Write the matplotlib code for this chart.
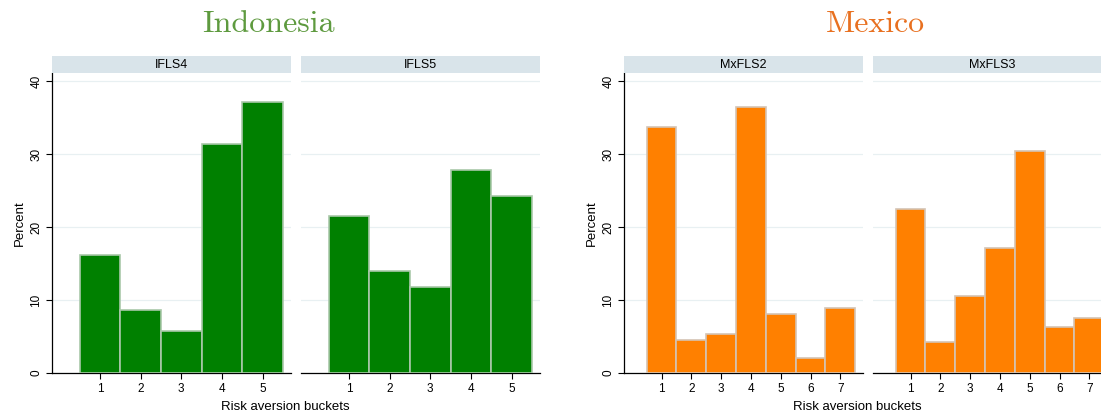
import matplotlib
matplotlib.use("Agg")
import matplotlib.pyplot as plt

# data (percent of respondents per bucket)
ifls_buckets = [1, 2, 3, 4, 5]
ifls4 = [16.2, 8.6, 5.8, 31.4, 37.1]
ifls5 = [21.5, 14.0, 11.8, 27.8, 24.2]

mxfls_buckets = [1, 2, 3, 4, 5, 6, 7]
mxfls2 = [33.7, 4.5, 5.3, 36.5, 8.1, 2.0, 8.9]
mxfls3 = [22.5, 4.3, 10.6, 17.1, 30.4, 6.3, 7.5]

y_ticks = [0, 10, 20, 30, 40]

W, H = 1101, 415
GREEN = "#008000"
ORANGE = "#ff8000"
STRIP = "#d9e4ea"
GRID = "#e8f0f2"

plt.rcParams["font.family"] = ["Liberation Sans", "DejaVu Sans"]


def rect(x0, y0, x1, y1):
    # pixel box (top-left origin) -> figure fraction
    return [x0 / W, 1 - y1 / H, (x1 - x0) / W, (y1 - y0) / H]


def panel(fig, x0, x1, name, buckets, values, color, edge, xlim, first):
    ax = fig.add_axes(rect(x0, 73, x1, 373))
    ax.bar(buckets, values, width=1.0, color=color, edgecolor=edge,
           linewidth=1.2, zorder=3)
    ax.set_xlim(*xlim)
    ax.set_ylim(0, 41.1)
    ax.set_yticks(y_ticks)
    ax.set_xticks(buckets)
    ax.grid(axis="y", color=GRID, linewidth=0.9, zorder=0)
    for s in ("top", "right"):
        ax.spines[s].set_visible(False)
    ax.spines["bottom"].set_linewidth(0.9)
    ax.tick_params(axis="x", length=4, width=0.8, labelsize=8.5, pad=3)
    if first:
        ax.spines["left"].set_linewidth(0.9)
        ax.tick_params(axis="y", length=4, width=0.8, labelsize=8.5, pad=3)
        for lab in ax.get_yticklabels():
            lab.set_rotation(90)
            lab.set_va("center")
        ax.set_ylabel("Percent", fontsize=9.5, labelpad=3)
    else:
        ax.spines["left"].set_visible(False)
        ax.tick_params(axis="y", left=False, labelleft=False)

    st = fig.add_axes(rect(x0, 56, x1, 73))
    st.set_facecolor(STRIP)
    st.set_xticks([])
    st.set_yticks([])
    for s in st.spines.values():
        s.set_visible(False)
    st.text(0.5, 0.5, name, ha="center", va="center", fontsize=9,
            transform=st.transAxes)
    return ax


fig = plt.figure(figsize=(W / 100, H / 100), dpi=100)

panel(fig, 52, 291, "IFLS4", ifls_buckets, ifls4, GREEN, "#a9c8a9",
      (-0.18, 5.7), True)
panel(fig, 301, 540, "IFLS5", ifls_buckets, ifls5, GREEN, "#a9c8a9",
      (-0.18, 5.7), False)
panel(fig, 624, 863, "MxFLS2", mxfls_buckets, mxfls2, ORANGE, "#d4c4b4",
      (-0.26, 7.76), True)
panel(fig, 873, 1112, "MxFLS3", mxfls_buckets, mxfls3, ORANGE, "#d4c4b4",
      (-0.26, 7.76), False)

fig.text(268 / W, 1 - 24 / H, "Indonesia", family="cmr10", fontsize=23,
         color="#5e9a3f", ha="center", va="center")
fig.text(875 / W, 1 - 24 / H, "Mexico", family="cmr10", fontsize=23,
         color="#e87020", ha="center", va="center")

fig.text(285 / W, 1 - 407 / H, "Risk aversion buckets", fontsize=9.5,
         ha="center", va="center")
fig.text(857 / W, 1 - 407 / H, "Risk aversion buckets", fontsize=9.5,
         ha="center", va="center")

fig.savefig("out.png", dpi=100)
